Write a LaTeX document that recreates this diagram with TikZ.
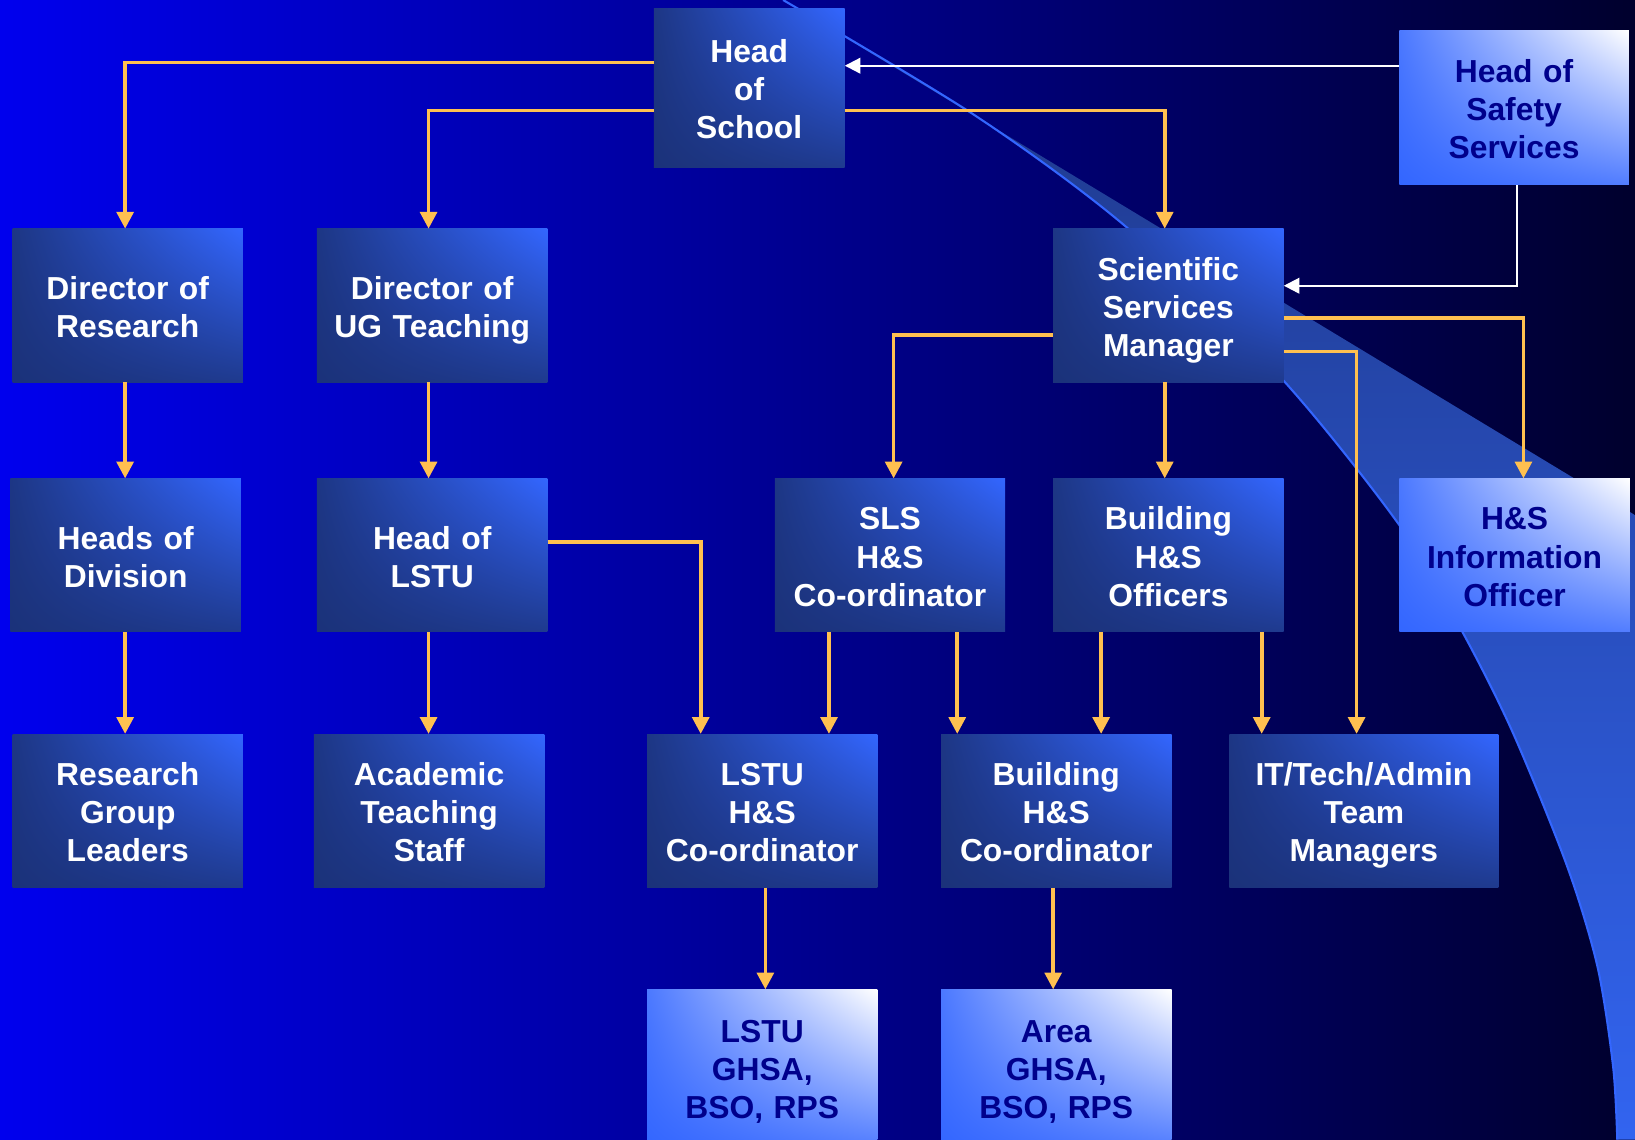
\documentclass[tikz,border=0pt]{standalone}
\usepackage{fontspec}
\setmainfont{Liberation Sans}
\usetikzlibrary{arrows.meta,shadings}
\definecolor{bgleft}{RGB}{0,0,238}
\definecolor{bgmid}{RGB}{0,0,160}
\definecolor{bgright}{RGB}{0,0,45}
\definecolor{boxdark}{RGB}{27,50,122}
\definecolor{boxbright}{RGB}{51,102,255}
\definecolor{linkgold}{RGB}{255,192,80}
\definecolor{swooshtop}{RGB}{30,55,135}
\definecolor{swooshlow}{RGB}{50,100,240}
\definecolor{textnavy}{RGB}{0,0,140}

\begin{document}
\begin{tikzpicture}[x=1pt, y=-1pt,
    every node/.style={font=\bfseries\fontsize{30.5}{36.5}\selectfont, align=center, inner sep=0pt, text width=205pt,
      execute at begin node=\rule{0pt}{31pt}, execute at end node=\rule[-6.5pt]{0pt}{6.5pt}},
    darkbox/.style={shade, upper left=boxdark!92!boxbright, upper right=boxbright, lower left=boxdark, lower right=boxdark!85!boxbright,
      text=white, minimum width=221pt, minimum height=147pt},
    lightbox/.style={shade, upper left=boxbright!88!white, upper right=white, lower left=boxbright, lower right=boxbright!85!white,
      text=textnavy, minimum width=221pt, minimum height=147pt},
    link/.style={draw=linkgold, line width=3.5pt, -{Triangle[width=16pt,length=16pt]}},
    feed/.style={draw=white, line width=2pt, -{Triangle[width=15pt,length=15pt]}}]
  \useasboundingbox (0,0) rectangle (1568,1093);
  \clip (0,0) rectangle (1568,1093);
  \shade[left color=bgleft, middle color=bgmid, right color=bgright] (0,0) rectangle (1568,1093);

  \shade[top color=swooshtop, middle color=swooshlow!90!swooshtop, bottom color=swooshlow]
    (751,0) -- (1568,494) -- (1568,1093) -- (1551,1093)
    -- plot[smooth] coordinates {(1551,1093) (1547,1023) (1532,927) (1503,831) (1451,703) (1403,607) (1343,505) (1230,364) (1084,221) (937,112) (751,0)}
    -- cycle;
  \draw[boxbright, line width=2pt] plot[smooth] coordinates {(1551,1093) (1547,1023) (1532,927) (1503,831) (1451,703) (1403,607) (1343,505) (1230,364) (1084,221) (937,112) (751,0)};

  \node[darkbox, text width=180pt, minimum width=183pt, minimum height=153pt] (hos) at (718.5,84.5) {Head\\of\\School};
  \node[lightbox, minimum width=220pt, minimum height=148pt] (hss) at (1452,103) {Head of\\Safety\\Services};

  \node[darkbox] (dor) at (122.5,293) {Director of\\Research};
  \node[darkbox] (dug) at (414.5,293) {Director of\\UG Teaching};
  \node[darkbox] (ssm) at (1120.5,293) {Scientific\\Services\\Manager};

  \node[darkbox] (hod) at (120.5,532.5) {Heads of\\Division};
  \node[darkbox] (hol) at (414.5,532.5) {Head of\\LSTU};
  \node[darkbox] (sls) at (853.5,532.5) {SLS\\H\&S\\Co-ordinator};
  \node[darkbox] (bho) at (1120.5,532.5) {Building\\H\&S\\Officers};
  \node[lightbox] (hsio) at (1452.5,532.5) {H\&S\\Information\\Officer};

  \node[darkbox] (rgl) at (122.5,777.5) {Research\\Group\\Leaders};
  \node[darkbox] (ats) at (411.5,777.5) {Academic\\Teaching\\Staff};
  \node[darkbox] (lhs) at (731,777.5) {LSTU\\H\&S\\Co-ordinator};
  \node[darkbox] (bhc) at (1013,777.5) {Building\\H\&S\\Co-ordinator};
  \node[darkbox, text width=240pt, minimum width=258pt] (itm) at (1308,777.5) {IT/Tech/Admin\\Team\\Managers};

  \node[lightbox, minimum height=150pt] (lga) at (731,1024) {LSTU\\GHSA,\\BSO, RPS};
  \node[lightbox, minimum height=150pt] (aga) at (1013,1024) {Area\\GHSA,\\BSO, RPS};

  \draw[link] ([yshift=24.5pt]hos.west) -| ([xshift=-2.5pt]dor.north);
  \draw[link] ([yshift=-21.5pt]hos.west) -| ([xshift=-3.5pt]dug.north);
  \draw[link] ([yshift=-21.5pt]hos.east) -| ([xshift=-3.5pt]ssm.north);
  \draw[feed] ([yshift=40pt]hss.west) -- ([yshift=21.5pt]hos.east);
  \draw[feed] ([xshift=3pt]hss.south) |- ([yshift=19pt]ssm.east);

  \draw[link] ([xshift=-2.5pt]dor.south) -- ([xshift=-0.5pt]hod.north);
  \draw[link] ([xshift=-0.5pt]hod.south) -- ([xshift=-2.5pt]rgl.north);
  \draw[link] ([xshift=-3.5pt]dug.south) -- ([xshift=-3.5pt]hol.north);
  \draw[link] ([xshift=-3.5pt]hol.south) -- ([xshift=-0.5pt]ats.north);
  \draw[link] ([yshift=12.5pt]hol.east) -| ([xshift=-59pt]lhs.north);

  \draw[link] ([yshift=-28pt]ssm.west) -| ([xshift=3.5pt]sls.north);
  \draw[link] ([xshift=-3.5pt]ssm.south) -- ([xshift=-3.5pt]bho.north);
  \draw[link] ([yshift=-12pt]ssm.east) -| ([xshift=8.5pt]hsio.north);
  \draw[link] ([yshift=-44pt]ssm.east) -| ([xshift=-7pt]itm.north);

  \draw[link] ([xshift=-58.5pt]sls.south) -- ([xshift=64pt]lhs.north);
  \draw[link] ([xshift=64.5pt]sls.south) -- ([xshift=-95pt]bhc.north);
  \draw[link] ([xshift=-64.5pt]bho.south) -- ([xshift=43pt]bhc.north);
  \draw[link] ([xshift=89.5pt]bho.south) -- ([xshift=-98pt]itm.north);
  \draw[link] ([xshift=3pt]lhs.south) -- ([xshift=3pt]lga.north);
  \draw[link] ([xshift=-3pt]bhc.south) -- ([xshift=-3pt]aga.north);
\end{tikzpicture}
\end{document}
